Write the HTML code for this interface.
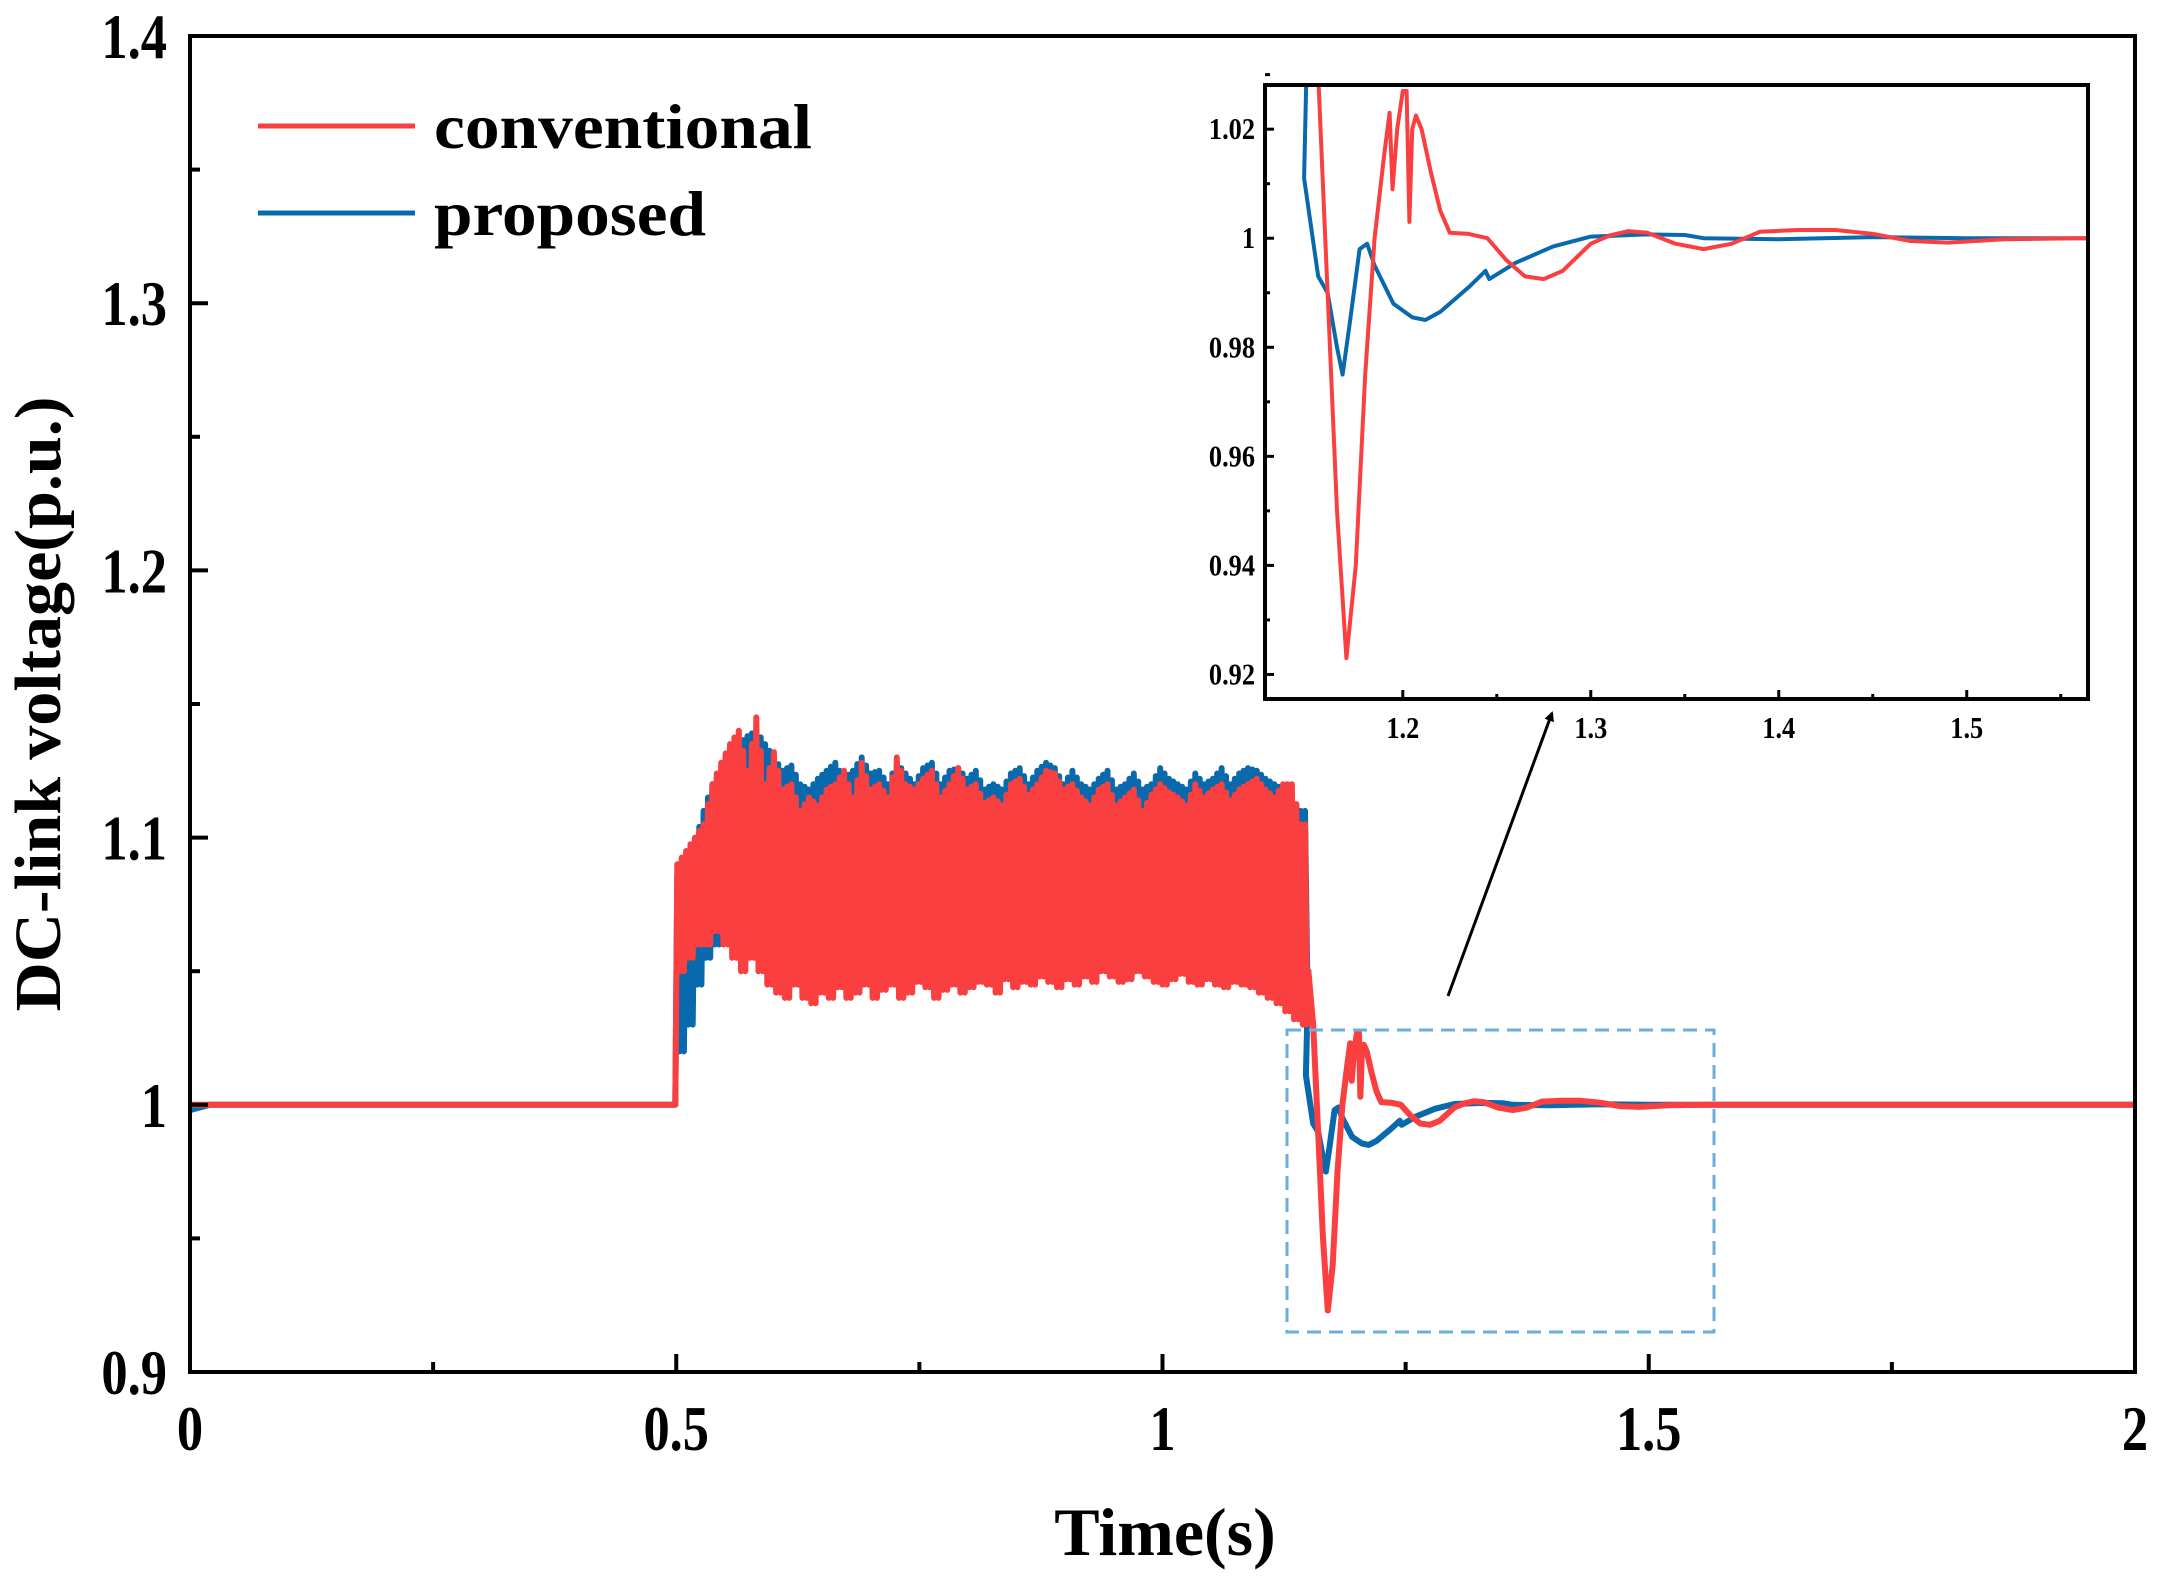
<!DOCTYPE html>
<html><head><meta charset="utf-8">
<style>
html,body{margin:0;padding:0;background:#fff;}
svg{display:block;}
text{font-family:"Liberation Serif",serif;font-weight:bold;fill:#000;}
</style></head>
<body>
<svg id="chart" width="2162" height="1581" viewBox="0 0 2162 1581" xmlns="http://www.w3.org/2000/svg">
<defs>
<clipPath id="mainClip"><rect x="190" y="36" width="1945" height="1336"/></clipPath>
<clipPath id="insetClip"><rect x="1265" y="85" width="823" height="614"/></clipPath>
<marker id="arrowHead" markerWidth="10" markerHeight="10" refX="8" refY="5" orient="auto" markerUnits="userSpaceOnUse"><path d="M0,0 L10,5 L0,10 z" fill="#000"/></marker>
</defs>
<g id="mainSeries" clip-path="url(#mainClip)"></g>
<rect x="190" y="36" width="1945" height="1336" fill="none" stroke="#000" stroke-width="4"/>
<g id="mainAxes"></g>
<text x="1165" y="1555" font-size="68" text-anchor="middle">Time(s)</text>
<text transform="translate(60,704) rotate(-90)" font-size="66" text-anchor="middle" textLength="615" lengthAdjust="spacingAndGlyphs">DC-link voltage(p.u.)</text>
<g>
<line x1="258" y1="126" x2="415" y2="126" stroke="#f93f3f" stroke-width="5"/>
<text x="434" y="148" font-size="64" textLength="378" lengthAdjust="spacingAndGlyphs">conventional</text>
<line x1="258" y1="213" x2="415" y2="213" stroke="#0969ad" stroke-width="5"/>
<text x="434" y="235" font-size="64" textLength="272" lengthAdjust="spacingAndGlyphs">proposed</text>
</g>
<rect x="1287" y="1030" width="427" height="302" fill="none" stroke="#6aaedc" stroke-width="3" stroke-dasharray="14,8"/>
<line x1="1448" y1="996" x2="1552" y2="713" stroke="#000" stroke-width="3" marker-end="url(#arrowHead)"/>
<rect x="1265" y="85" width="823" height="614" fill="#fff"/>
<g id="insetSeries" clip-path="url(#insetClip)"></g>
<rect x="1265" y="85" width="823" height="614" fill="none" stroke="#000" stroke-width="4"/>
<g id="insetAxes"></g>
</svg>
<script>
// ---- data ----
const xTicks = [0, 0.5, 1, 1.5, 2];
const xTickLabels = ["0", "0.5", "1", "1.5", "2"];
const yTicks = [0.9, 1.0, 1.1, 1.2, 1.3, 1.4];
const yTickLabels = ["0.9", "1", "1.1", "1.2", "1.3", "1.4"];
const insetXTicks = [1.2, 1.3, 1.4, 1.5];
const insetXTickLabels = ["1.2", "1.3", "1.4", "1.5"];
const insetYTicks = [0.92, 0.94, 0.96, 0.98, 1.0, 1.02];
const insetYTickLabels = ["0.92", "0.94", "0.96", "0.98", "1", "1.02"];

// oscillation envelope (0.5s to 1.15s), each entry spans two cycles
const redHigh = [1.09,1.095,1.10,1.105,1.12,1.128,1.135,1.14,1.125,1.145,1.12,1.132,1.118,1.12,1.11,1.115,1.112,1.118,1.12,1.125,1.115,1.128,1.118,1.12,1.115,1.13,1.12,1.118,1.122,1.125,1.115,1.12,1.126,1.118,1.12,1.113,1.115,1.112,1.12,1.122,1.116,1.12,1.125,1.124,1.118,1.12,1.115,1.112,1.118,1.12,1.112,1.115,1.118,1.11,1.116,1.12,1.117,1.115,1.112,1.12,1.115,1.118,1.12,1.114,1.118,1.12,1.122,1.118,1.115,1.12,1.12,1.105];
const redLow  = [1.05,1.055,1.06,1.06,1.065,1.06,1.055,1.05,1.055,1.05,1.045,1.042,1.04,1.045,1.04,1.038,1.042,1.04,1.044,1.04,1.042,1.045,1.04,1.043,1.045,1.04,1.042,1.046,1.044,1.04,1.043,1.045,1.042,1.044,1.046,1.045,1.042,1.047,1.044,1.046,1.045,1.048,1.046,1.044,1.047,1.045,1.048,1.046,1.05,1.048,1.046,1.047,1.05,1.048,1.046,1.045,1.047,1.049,1.046,1.045,1.047,1.045,1.044,1.046,1.045,1.044,1.042,1.04,1.038,1.035,1.032,1.03];
const blueHigh = [1.085,1.09,1.098,1.11,1.12,1.125,1.13,1.135,1.138,1.14,1.135,1.13,1.125,1.127,1.12,1.118,1.122,1.125,1.128,1.122,1.125,1.13,1.124,1.125,1.12,1.128,1.124,1.12,1.126,1.128,1.12,1.125,1.126,1.122,1.125,1.118,1.12,1.118,1.124,1.126,1.12,1.125,1.128,1.126,1.12,1.125,1.12,1.118,1.122,1.125,1.118,1.12,1.124,1.118,1.12,1.126,1.122,1.12,1.118,1.124,1.12,1.122,1.126,1.12,1.124,1.126,1.125,1.122,1.12,1.118,1.115,1.11];
const blueLow  = [1.02,1.03,1.045,1.055,1.06,1.065,1.062,1.065,1.06,1.058,1.055,1.052,1.05,1.052,1.05,1.048,1.052,1.05,1.052,1.05,1.051,1.053,1.05,1.052,1.053,1.05,1.052,1.054,1.052,1.05,1.052,1.053,1.051,1.052,1.054,1.053,1.052,1.055,1.052,1.054,1.053,1.055,1.054,1.052,1.055,1.053,1.055,1.054,1.056,1.055,1.053,1.054,1.056,1.055,1.054,1.052,1.054,1.056,1.054,1.053,1.055,1.053,1.052,1.054,1.053,1.052,1.05,1.048,1.046,1.045,1.045,1.05];

// transient after fault clearing (time, value)
const redTransT = [1.15,1.155,1.16,1.165,1.17,1.175,1.18,1.185,1.19,1.193,1.1945,1.197,1.2,1.202,1.2035,1.205,1.207,1.21,1.215,1.22,1.225,1.235,1.245,1.255,1.265,1.275,1.285,1.3,1.31,1.32,1.33,1.345,1.36,1.375,1.39,1.41,1.43,1.45,1.47,1.49,1.52,1.56,2.0];
const redTransV = [1.05,1.03,0.99,0.95,0.923,0.94,0.975,1.0,1.015,1.023,1.009,1.02,1.027,1.027,1.003,1.02,1.0225,1.02,1.012,1.005,1.001,1.0008,1.0,0.996,0.993,0.9925,0.994,0.999,1.0005,1.0013,1.001,0.999,0.998,0.999,1.0012,1.0015,1.0015,1.0008,0.9995,0.9992,0.9998,1.0,1.0];
const blueTransT = [1.15,1.1475,1.155,1.16,1.165,1.168,1.172,1.177,1.181,1.185,1.195,1.205,1.212,1.22,1.235,1.244,1.246,1.26,1.28,1.3,1.33,1.35,1.36,1.4,1.45,1.5,2.0];
const blueTransV = [1.05,1.011,0.993,0.99,0.98,0.975,0.985,0.998,0.999,0.995,0.988,0.9855,0.985,0.9865,0.991,0.994,0.9925,0.9955,0.9985,1.0003,1.0007,1.0006,1.0,0.9998,1.0002,1.0,1.0];

// ---- axes ----
const X0=190, X1=2135, Y0=1372, Y1=36;
const xMain = t => X0 + (t-0)/(2-0)*(X1-X0);
const yMain = v => Y0 - (v-0.9)/(1.4-0.9)*(Y0-Y1);
const IX0=1265, IX1=2088, IY0=699, IY1=85;
const IT0=1.1267, IT1=1.5645, IV0=0.9155, IV1=1.0281;
const xIn = t => IX0 + (t-IT0)/(IT1-IT0)*(IX1-IX0);
const yIn = v => IY0 - (v-IV0)/(IV1-IV0)*(IY0-IY1);

const NS="http://www.w3.org/2000/svg";
function mk(tag, parent){const e=document.createElementNS(NS,tag);parent.appendChild(e);return e;}

function buildSeries(high, low, transT, transV, startDip){
  const pts=[];
  pts.push([0, startDip]); pts.push([0.02,1.0]); pts.push([0.499,1.0]);
  const n=high.length, t0=0.5, t1=1.15, per=(t1-t0)/n;
  for(let i=0;i<n;i++){
    const nextHigh = i+1<n ? high[i+1] : high[i];
    pts.push([t0+i*per+per*0.12, high[i]]);
    pts.push([t0+i*per+per*0.37, low[i]]);
    pts.push([t0+i*per+per*0.62, (high[i]+nextHigh)/2]);
    pts.push([t0+i*per+per*0.87, low[i]]);
  }
  for(let i=0;i<transT.length;i++) pts.push([transT[i], transV[i]]);
  return pts;
}
const redPts = buildSeries(redHigh, redLow, redTransT, redTransV, 1.0);
const bluePts = buildSeries(blueHigh, blueLow, blueTransT, blueTransV, 0.998);

function pathD(pts, fx, fy){return pts.map((p,i)=>(i?'L':'M')+fx(p[0]).toFixed(1)+','+fy(p[1]).toFixed(1)).join(' ');}

const ms=document.getElementById('mainSeries');
const bl=mk('path',ms);


bl.setAttribute('d',pathD(bluePts,xMain,yMain));bl.setAttribute('fill','none');bl.setAttribute('stroke','#0969ad');bl.setAttribute('stroke-width','6');bl.setAttribute('stroke-linejoin','round');
const rl=mk('path',ms);


rl.setAttribute('d',pathD(redPts,xMain,yMain));rl.setAttribute('fill','none');rl.setAttribute('stroke','#f93f3f');rl.setAttribute('stroke-width','6');rl.setAttribute('stroke-linejoin','round');

const ins=document.getElementById('insetSeries');
const bi=mk('path',ins);


bi.setAttribute('d',pathD(bluePts.filter(p=>p[0]>=1.14),xIn,yIn));bi.setAttribute('fill','none');bi.setAttribute('stroke','#0969ad');bi.setAttribute('stroke-width','4');bi.setAttribute('stroke-linejoin','round');
const ri=mk('path',ins);


ri.setAttribute('d',pathD(redPts.filter(p=>p[0]>=1.14),xIn,yIn));ri.setAttribute('fill','none');ri.setAttribute('stroke','#f93f3f');ri.setAttribute('stroke-width','4');ri.setAttribute('stroke-linejoin','round');

function condensed(el, x, y, size, sx){
  el.setAttribute('transform','translate('+x+','+y+') scale('+sx+',1)');
  el.setAttribute('font-size',size);
}

// main ticks
const ma=document.getElementById('mainAxes');
for(let i=0;i<xTicks.length;i++){
  const x=xMain(xTicks[i]);
  const tk=mk('line',ma);
  
  
  tk.setAttribute('x1',x);tk.setAttribute('x2',x);tk.setAttribute('y1',Y0);tk.setAttribute('y2',Y0-18);tk.setAttribute('stroke','#000');tk.setAttribute('stroke-width','4');
  if(i<xTicks.length-1){const xm=xMain(xTicks[i]+0.25);const m=mk('line',ma);
    
    
    m.setAttribute('x1',xm);m.setAttribute('x2',xm);m.setAttribute('y1',Y0);m.setAttribute('y2',Y0-10);m.setAttribute('stroke','#000');m.setAttribute('stroke-width','4');}
  const lb=mk('text',ma);
  
  
  lb.setAttribute('text-anchor','middle');
  condensed(lb, x, 1450, 64, 0.82);
  lb.textContent=xTickLabels[i];
}
for(let i=0;i<yTicks.length;i++){
  const y=yMain(yTicks[i]);
  const tk=mk('line',ma);
  
  
  tk.setAttribute('x1',X0);tk.setAttribute('x2',X0+18);tk.setAttribute('y1',y);tk.setAttribute('y2',y);tk.setAttribute('stroke','#000');tk.setAttribute('stroke-width','4');
  if(i<yTicks.length-1){const ym=yMain(yTicks[i]+0.05);const m=mk('line',ma);
    
    
    m.setAttribute('x1',X0);m.setAttribute('x2',X0+10);m.setAttribute('y1',ym);m.setAttribute('y2',ym);m.setAttribute('stroke','#000');m.setAttribute('stroke-width','4');}
  const lb=mk('text',ma);
  
  
  lb.setAttribute('text-anchor','end');
  condensed(lb, 167, y+22, 64, 0.82);
  lb.textContent=yTickLabels[i];
}
// inset ticks
const ia=document.getElementById('insetAxes');
for(let i=0;i<insetXTicks.length;i++){
  const x=xIn(insetXTicks[i]);
  const tk=mk('line',ia);
  
  
  tk.setAttribute('x1',x);tk.setAttribute('x2',x);tk.setAttribute('y1',IY0);tk.setAttribute('y2',IY0-9);tk.setAttribute('stroke','#000');tk.setAttribute('stroke-width','3');
  const xm=xIn(insetXTicks[i]+0.05);const m=mk('line',ia);
  
  
  m.setAttribute('x1',xm);m.setAttribute('x2',xm);m.setAttribute('y1',IY0);m.setAttribute('y2',IY0-5);m.setAttribute('stroke','#000');m.setAttribute('stroke-width','3');
  const lb=mk('text',ia);
  
  
  lb.setAttribute('text-anchor','middle');
  condensed(lb, x, IY0+39, 31, 0.85);
  lb.textContent=insetXTickLabels[i];
}
for(let i=0;i<insetYTicks.length;i++){
  const y=yIn(insetYTicks[i]);
  const tk=mk('line',ia);
  
  
  tk.setAttribute('x1',IX0);tk.setAttribute('x2',IX0+9);tk.setAttribute('y1',y);tk.setAttribute('y2',y);tk.setAttribute('stroke','#000');tk.setAttribute('stroke-width','3');
  const ym=yIn(insetYTicks[i]+0.01);const m=mk('line',ia);
  
  
  m.setAttribute('x1',IX0);m.setAttribute('x2',IX0+5);m.setAttribute('y1',ym);m.setAttribute('y2',ym);m.setAttribute('stroke','#000');m.setAttribute('stroke-width','3');
  const lb=mk('text',ia);
  
  
  lb.setAttribute('text-anchor','end');
  condensed(lb, IX0-10, y+10, 31, 0.85);
  lb.textContent=insetYTickLabels[i];
}
</script>
</body></html>
